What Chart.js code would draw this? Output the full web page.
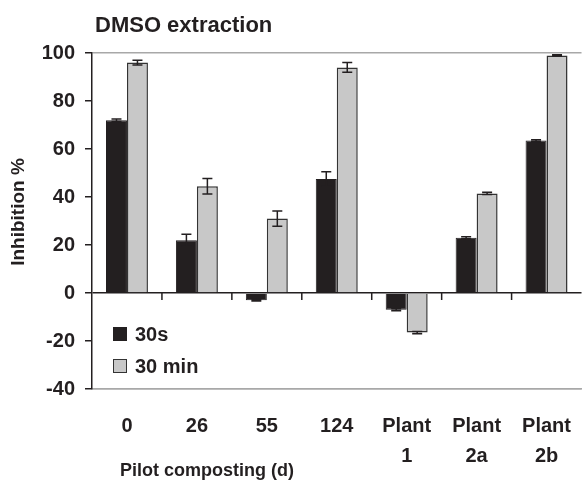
<!DOCTYPE html>
<html>
<head>
<meta charset="utf-8">
<script src="https://cdn.jsdelivr.net/npm/chart.js@4.4.1/dist/chart.umd.min.js"></script>
<style>
  html, body { margin: 0; padding: 0; background: #fff; }
  #wrap { width: 585px; height: 486px; position: relative; }
</style>
</head>
<body>
<div id="wrap"><canvas id="chart"></canvas></div>
<script>
// data
const categories = ["0", "26", "55", "124", ["Plant", "1"], ["Plant", "2a"], ["Plant", "2b"]];
const shortValues = [72, 22, -3, 47.5, -7, 23, 63.5];     // 30s
const shortErrors = [0.5, 2.5, 0.3, 3, 0.4, 0.4, 0.4];
const longValues = [96, 44.5, 31, 94, -16.5, 41.5, 99];   // 30 min
const longErrors = [1, 3.2, 3.2, 2, 0.5, 0.5, 0.3];
const seriesNames = ["30s", "30 min"];
const yTicks = { min: -40, max: 100, step: 20 };

const INK = "#231f20";
const FONT = "'Liberation Sans', Arial, sans-serif";

// error bars drawn from the y scale
const errorBars = {
  id: "errorBars",
  afterDatasetsDraw(chart) {
    const ctx = chart.ctx;
    const y = chart.scales.y;
    const errs = [shortErrors, longErrors];
    ctx.save();
    ctx.strokeStyle = INK;
    ctx.lineWidth = 1.5;
    chart.data.datasets.forEach((ds, di) => {
      const meta = chart.getDatasetMeta(di);
      meta.data.forEach((bar, i) => {
        const v = ds.data[i], e = errs[di][i];
        const x = bar.x;
        const y1 = y.getPixelForValue(v - e);
        const y2 = y.getPixelForValue(v + e);
        ctx.beginPath();
        ctx.moveTo(x, y1); ctx.lineTo(x, y2);
        ctx.moveTo(x - 5, y1); ctx.lineTo(x + 5, y1);
        ctx.moveTo(x - 5, y2); ctx.lineTo(x + 5, y2);
        ctx.stroke();
      });
    });
    ctx.restore();
  }
};

// tick marks on the zero line, titles, legend
const extras = {
  id: "extras",
  afterDraw(chart) {
    const ctx = chart.ctx;
    const x = chart.scales.x, y = chart.scales.y;
    const y0 = y.getPixelForValue(0);
    ctx.save();
    ctx.strokeStyle = INK;
    ctx.lineWidth = 1.5;
    ctx.beginPath();
    for (let i = 0; i < categories.length - 1; i++) {
      const bx = (x.getPixelForValue(i) + x.getPixelForValue(i + 1)) / 2;
      ctx.moveTo(bx, y0);
      ctx.lineTo(bx, y0 + 7);
    }
    ctx.stroke();

    ctx.fillStyle = INK;
    ctx.textBaseline = "middle";
    ctx.textAlign = "left";
    ctx.font = "bold 22px " + FONT;
    ctx.fillText("DMSO extraction", 95, 26);

    ctx.font = "bold 18px " + FONT;
    ctx.fillText("Pilot composting (d)", 120, 471);

    // y title, a bit above the middle of the plot like the original
    ctx.save();
    ctx.translate(19, 212);
    ctx.rotate(-Math.PI / 2);
    ctx.textAlign = "center";
    ctx.font = "bold 19px " + FONT;
    ctx.fillText("Inhibition %", 0, 0);
    ctx.restore();

    // legend
    const colors = [
      { fill: INK, stroke: INK },
      { fill: "#c8c8c8", stroke: "#333" }
    ];
    ctx.font = "bold 20px " + FONT;
    seriesNames.forEach((name, i) => {
      const ly = 334 + i * 32;
      ctx.fillStyle = colors[i].fill;
      ctx.fillRect(113, ly - 7, 14, 14);
      ctx.strokeStyle = colors[i].stroke;
      ctx.lineWidth = 1;
      ctx.strokeRect(113.5, ly - 6.5, 13, 13);
      ctx.fillStyle = INK;
      ctx.fillText(name, 135, ly + 1);
    });
    ctx.restore();
  }
};

new Chart(document.getElementById("chart"), {
  type: "bar",
  data: {
    labels: categories,
    datasets: [
      {
        label: seriesNames[0],
        data: shortValues,
        backgroundColor: INK,
        borderColor: INK,
        borderWidth: 1,
        categoryPercentage: 0.6,
        barPercentage: 1.0
      },
      {
        label: seriesNames[1],
        data: longValues,
        backgroundColor: "#c8c8c8",
        borderColor: "#333",
        borderWidth: 1.5,
        categoryPercentage: 0.6,
        barPercentage: 1.0
      }
    ]
  },
  options: {
    responsive: true,
    maintainAspectRatio: false,
    animation: false,
    layout: { padding: { top: 53, right: -3, left: 0, bottom: 0 } },
    plugins: {
      legend: { display: false },
      tooltip: { enabled: false }
    },
    scales: {
      x: {
        afterFit: (s) => { s.height = 97; },
        grid: { display: false },
        border: { color: "#a8a8a8", width: 1.5 },
        ticks: {
          color: INK,
          font: { family: FONT, size: 20, weight: "bold", lineHeight: 1.5 },
          padding: 14,
          maxRotation: 0,
          autoSkip: false
        }
      },
      y: {
        min: yTicks.min,
        max: yTicks.max,
        afterFit: (s) => { s.width = 92; },
        ticks: {
          stepSize: yTicks.step,
          color: INK,
          font: { family: FONT, size: 20, weight: "bold" },
          padding: 10
        },
        grid: {
          drawOnChartArea: true,
          tickLength: 7,
          tickColor: INK,
          tickWidth: 1.5,
          lineWidth: 1.5,
          color: (c) => {
            const v = c.tick.value;
            if (v === 0) return INK;
            if (v === yTicks.max || v === yTicks.min) return "#a8a8a8";
            return "rgba(0,0,0,0)";
          }
        },
        border: { color: INK, width: 1.5 },
        title: { display: false }
      }
    }
  },
  plugins: [errorBars, extras]
});
</script>
</body>
</html>
